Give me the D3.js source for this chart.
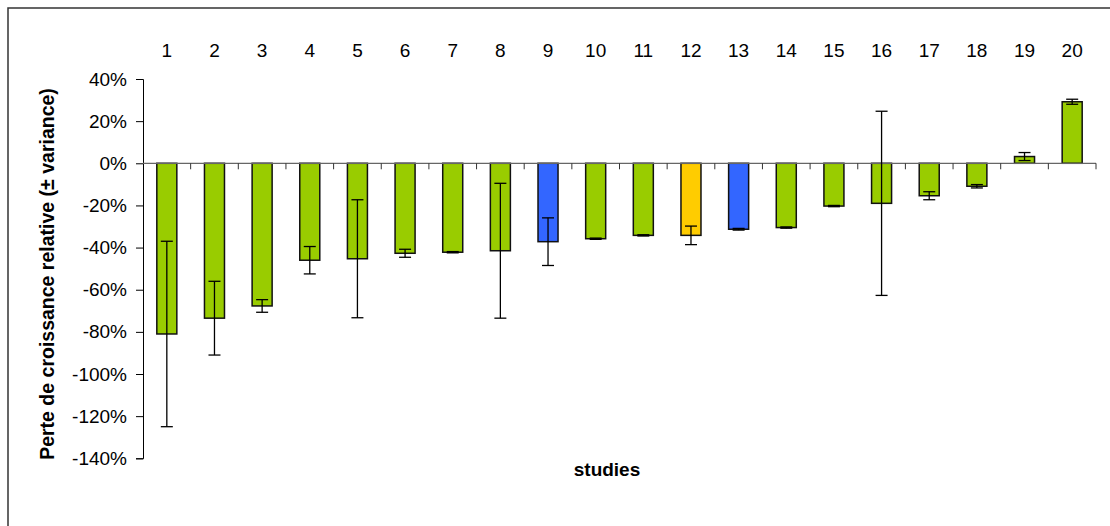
<!DOCTYPE html>
<html><head><meta charset="utf-8">
<script src="https://cdn.jsdelivr.net/npm/d3@7"></script>
<style>body{margin:0;background:#fff;} svg{display:block;font-family:"Liberation Sans",Arial,sans-serif;}</style>
</head><body>
<script>
const studies = ["1","2","3","4","5","6","7","8","9","10","11","12","13","14","15","16","17","18","19","20"];
const values = [-81,-73.5,-67.7,-46,-45.3,-42.7,-42.2,-41.5,-37.2,-35.8,-34.2,-34.2,-31.3,-30.5,-20.3,-19,-15.4,-10.9,3.2,29.2];
const errors = [44,17.5,3,6.5,28,1.9,0.3,32,11.3,0.3,0.3,4.4,0.4,0.3,0.3,43.7,1.9,0.8,1.9,1.2];
const groups = ["g","g","g","g","g","g","g","g","b","g","g","y","b","g","g","g","g","g","g","g"];
const yTicks = [40,20,0,-20,-40,-60,-80,-100,-120,-140];
const colors = {g:"#99CC00", b:"#3366FF", y:"#FFCC00"};

const W=1110,H=526;
const svg=d3.select("body").append("svg").attr("width",W).attr("height",H);
svg.append("rect").attr("x",8).attr("y",8).attr("width",W+20).attr("height",H+20)
  .attr("fill","none").attr("stroke","#333").attr("stroke-width",1.5);

const x=d3.scaleBand().domain(studies).range([143,1096]).paddingInner(0.58).paddingOuter(0.29);
const y=d3.scaleLinear().domain([-140,40]).range([458.3,79]);

// y axis
const ya=svg.append("g").attr("transform","translate(143,0)")
  .call(d3.axisLeft(y).tickValues(yTicks).tickFormat(d=>d+"%").tickSize(7).tickPadding(9));
ya.select(".domain").attr("stroke","#000").attr("stroke-width",1);
ya.selectAll(".tick line").attr("stroke","#000");
ya.selectAll("text").attr("font-size",19).attr("fill","#000").style("font-family","Liberation Sans, Arial, sans-serif");

// bars
svg.append("g").selectAll("rect").data(studies).join("rect")
  .attr("x",d=>x(d)).attr("width",x.bandwidth())
  .attr("y",(d,i)=>y(Math.max(0,values[i])))
  .attr("height",(d,i)=>Math.abs(y(values[i])-y(0)))
  .attr("fill",(d,i)=>colors[groups[i]])
  .attr("stroke","#111").attr("stroke-width",1.5);

// x axis at zero with ticks between categories
const bounds=d3.range(studies.length+1).map(i=>143+i*(1096-143)/studies.length);
const xa=svg.append("g");
xa.append("line").attr("x1",143).attr("x2",1096).attr("y1",y(0)).attr("y2",y(0))
  .attr("stroke","#666").attr("stroke-width",1.2);
xa.selectAll("line.t").data(bounds.slice(1)).join("line").attr("class","t")
  .attr("x1",d=>d).attr("x2",d=>d).attr("y1",y(0)).attr("y2",y(0)+6)
  .attr("stroke","#333").attr("stroke-width",1);

// error bars
const eb=svg.append("g").attr("stroke","#000").attr("stroke-width",1.3);
studies.forEach((d,i)=>{
  const cx=x(d)+x.bandwidth()/2;
  const hi=y(values[i]+errors[i]), lo=y(values[i]-errors[i]);
  eb.append("line").attr("x1",cx).attr("x2",cx).attr("y1",hi).attr("y2",lo);
  eb.append("line").attr("x1",cx-6).attr("x2",cx+6).attr("y1",hi).attr("y2",hi);
  eb.append("line").attr("x1",cx-6).attr("x2",cx+6).attr("y1",lo).attr("y2",lo);
});

// category labels at top
svg.append("g").selectAll("text").data(studies).join("text")
  .attr("x",d=>x(d)+x.bandwidth()/2).attr("y",56.5).attr("text-anchor","middle")
  .attr("font-size",19).attr("fill","#000").text(d=>d);

// axis titles
svg.append("text").attr("x",607).attr("y",476).attr("text-anchor","middle")
  .attr("font-size",19).attr("font-weight","bold").text("studies");
svg.append("text").attr("transform","translate(53.5,274) rotate(-90)").attr("text-anchor","middle")
  .attr("font-size",19.5).attr("font-weight","bold").text("Perte de croissance relative (± variance)");
</script>
</body></html>
